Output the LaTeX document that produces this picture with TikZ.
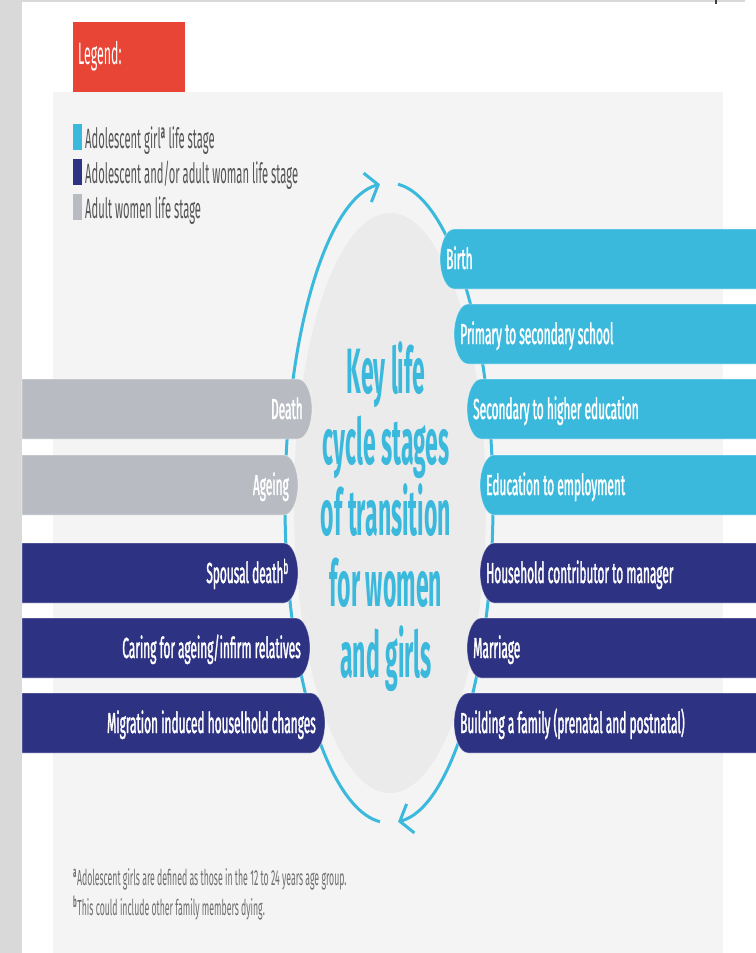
\documentclass[tikz,border=0pt]{standalone}
\usepackage{fontspec}
\setmainfont[FakeStretch=0.4]{Fira Sans}
\newfontfamily\titlefont[FakeStretch=0.36]{Fira Sans}
\newfontfamily\pillfont[FakeStretch=0.41, FakeBold=1.2]{Fira Sans}
\usetikzlibrary{arrows.meta}

\definecolor{stagecyan}{HTML}{3BB9DD}
\definecolor{stagenavy}{HTML}{2E3282}
\definecolor{stagegrey}{HTML}{B8BCC2}
\definecolor{legendred}{HTML}{E84536}
\definecolor{panelgrey}{HTML}{F4F4F4}
\definecolor{blobgrey}{HTML}{EBEBEB}
\definecolor{sidegrey}{HTML}{D9D9D9}
\definecolor{inkgrey}{HTML}{555555}

\tikzset{
  pilltext/.style={text=white, font=\pillfont\fontsize{29}{32}\selectfont, inner sep=0pt, text height=20pt, text depth=0pt},
  pillline/.style={draw=white, draw opacity=0.45, line width=0.8pt},
  legendtext/.style={text=inkgrey, font=\fontsize{28}{30}\selectfont, inner sep=0pt},
  notetext/.style={text=inkgrey!85, font=\fontsize{21.8}{23}\selectfont, inner sep=0pt},
  cyclearc/.style={stagecyan, line width=3pt, -{Straight Barb[length=11pt, width=30pt, line width=3pt]}},
}

\begin{document}
\begin{tikzpicture}[x=1pt, y=-1pt]
  \useasboundingbox (0,0) rectangle (755,953);
  % page, side strip and panel
  \fill[white] (0,0) rectangle (755,953);
  \fill[sidegrey] (0,0) rectangle (22,953);
  \fill[sidegrey] (22,0) rectangle (745,2);
  \draw[darkgray, line width=1.2pt] (716,0) -- (716,4);
  \fill[panelgrey] (53,92) rectangle (723,953);

  % legend
  \fill[legendred] (73,22) rectangle (185,92);
  \node[anchor=base west, text=white, font=\fontsize{31}{34}\selectfont, inner sep=0pt] (legend) at (78,64) {Legend:};
  \foreach \nm/\y/\col/\txt in {girl/124/stagecyan/{Adolescent girl\textsuperscript{\bfseries a} life stage},
      woman/159/stagenavy/{Adolescent and/or adult woman life stage},
      adult/194/stagegrey/{Adult women life stage}}{
    \fill[\col] (73,\y) rectangle (82,\y+26);
    \node[legendtext, anchor=base west] (\nm) at (85,\y+24) {\txt};
  }

  % centre blob and the two cycle arrows
  \fill[blobgrey] (390,503) ellipse[x radius=96, y radius=290];
  \draw[cyclearc, shift={(389,503)}] (95:104 and 320) arc[start angle=95, end angle=265, x radius=104, y radius=320];
  \draw[cyclearc, shift={(389,503)}] (-85:104 and 320) arc[start angle=-85, end angle=85, x radius=104, y radius=320];

  % last line sits on the base anchor
  \node[text=stagecyan, font=\titlefont\bfseries\fontsize{64}{71}\selectfont, align=center, inner sep=0pt, anchor=base] (title) at (386,677)
    {Key life\\cycle stages\\of transition\\for women\\and girls};

  % stages on the right
  \foreach \nm/\xa/\ya/\col/\txt in {birth/440/229/stagecyan/Birth,
      school/454/304/stagecyan/{Primary to secondary school},
      higher/467/379/stagecyan/{Secondary to higher education},
      employ/480/455/stagecyan/{Education to employment},
      manager/480/543/stagenavy/{Household contributor to manager},
      marriage/467/618/stagenavy/Marriage,
      family/454/693/stagenavy/{Building a family (prenatal and postnatal)}}{
    \filldraw[pillline, fill=\col] (760,\ya) -- (\xa+14,\ya) arc[start angle=270, end angle=90, x radius=14, y radius=30] -- (760,\ya+60) -- cycle;
    \node[pilltext, anchor=west] (\nm) at (\xa+6,\ya+30) {\txt};
  }

  % stages on the left
  \foreach \nm/\xb/\ya/\col/\txt in {death/312/379/stagegrey/Death,
      ageing/298/455/stagegrey/Ageing,
      spouse/298/543/stagenavy/{Spousal death\textsuperscript{b}},
      caring/310/618/stagenavy/{Caring for ageing/infirm relatives},
      migration/325/693/stagenavy/{Migration induced houselhold changes}}{
    \filldraw[pillline, fill=\col] (22,\ya) -- (\xb-14,\ya) arc[start angle=-90, end angle=90, x radius=14, y radius=30] -- (22,\ya+60) -- cycle;
    \node[pilltext, anchor=east] (\nm) at (\xb-9,\ya+30) {\txt};
  }

  % footnotes
  \node[notetext, anchor=base west] (notea) at (73,885) {\textsuperscript{\bfseries a}Adolescent girls are defined as those in the 12 to 24 years age group.};
  \node[notetext, anchor=base west] (noteb) at (73,915) {\textsuperscript{\bfseries b}This could include other family members dying.};
\end{tikzpicture}
\end{document}
